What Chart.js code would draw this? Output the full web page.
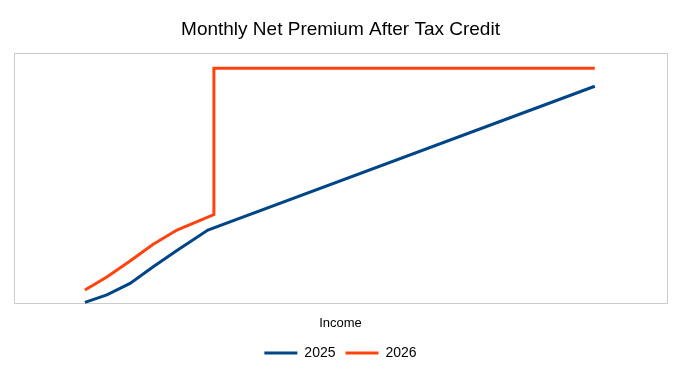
<!DOCTYPE html>
<html>
<head>
<meta charset="utf-8">
<script src="https://cdn.jsdelivr.net/npm/chart.js@4/dist/chart.umd.min.js"></script>
<style>
html,body{margin:0;padding:0;background:#fff;}
#wrap{width:681px;height:383px;position:relative;}
</style>
</head>
<body>
<div id="wrap"><canvas id="c" width="681" height="383"></canvas></div>
<script>
// Income expressed as % of the federal poverty level (axis ticks hidden in the original)
const income2025 = [100, 151, 205, 258, 314, 386, 1286];
const premium2025 = [0, 15, 38, 71, 104, 145, 433];
const income2026 = [100, 151, 205, 258, 314, 400, 400, 1286];
const premium2026 = [25, 51, 83, 116, 145, 176, 469, 469];
const seriesNames = ['2025', '2026'];
const chartTitle = 'Monthly Net Premium After Tax Credit';
const xTitle = 'Income';
const xMin = -65, xMax = 1454;
const yMin = 0, yMax = 500;

const toPoints = (xs, ys) => xs.map((x, i) => ({x: x, y: ys[i]}));

const frame = {
  id: 'frame',
  beforeDatasetsDraw(chart) {
    const a = chart.chartArea, ctx = chart.ctx;
    ctx.save();
    ctx.strokeStyle = '#cccccc';
    ctx.lineWidth = 1;
    ctx.strokeRect(Math.round(a.left) + 0.5, Math.round(a.top) + 0.5,
      Math.round(a.right - a.left), Math.round(a.bottom - a.top));
    ctx.restore();
  }
};

new Chart(document.getElementById('c'), {
  type: 'line',
  data: {
    datasets: [
      {label: seriesNames[0], data: toPoints(income2025, premium2025),
       borderColor: '#004586', backgroundColor: '#004586', borderWidth: 3,
       pointRadius: 0, tension: 0, clip: false},
      {label: seriesNames[1], data: toPoints(income2026, premium2026),
       borderColor: '#ff420e', backgroundColor: '#ff420e', borderWidth: 3,
       pointRadius: 0, tension: 0, clip: false}
    ]
  },
  options: {
    responsive: false,
    animation: false,
    layout: {padding: {left: 14, right: 14, top: 0, bottom: 13}},
    plugins: {
      title: {display: true, text: chartTitle, color: '#000',
        font: {family: 'Liberation Sans', size: 19, weight: 'normal'},
        padding: {top: 18, bottom: 12}},
      legend: {position: 'bottom',
        labels: {color: '#000', boxWidth: 33, boxHeight: 3, padding: 10,
          font: {family: 'Liberation Sans', size: 14},
          generateLabels: (chart) => Chart.defaults.plugins.legend.labels.generateLabels(chart)
            .map(l => Object.assign(l, {lineWidth: 0}))}},
      tooltip: {enabled: false}
    },
    scales: {
      x: {type: 'linear', min: xMin, max: xMax,
        grid: {display: false}, border: {display: false},
        ticks: {display: false},
        title: {display: true, text: xTitle, color: '#000',
          font: {family: 'Liberation Sans', size: 13}, padding: {top: 5, bottom: 5}}},
      y: {display: false, min: yMin, max: yMax}
    }
  },
  plugins: [frame]
});
</script>
</body>
</html>
